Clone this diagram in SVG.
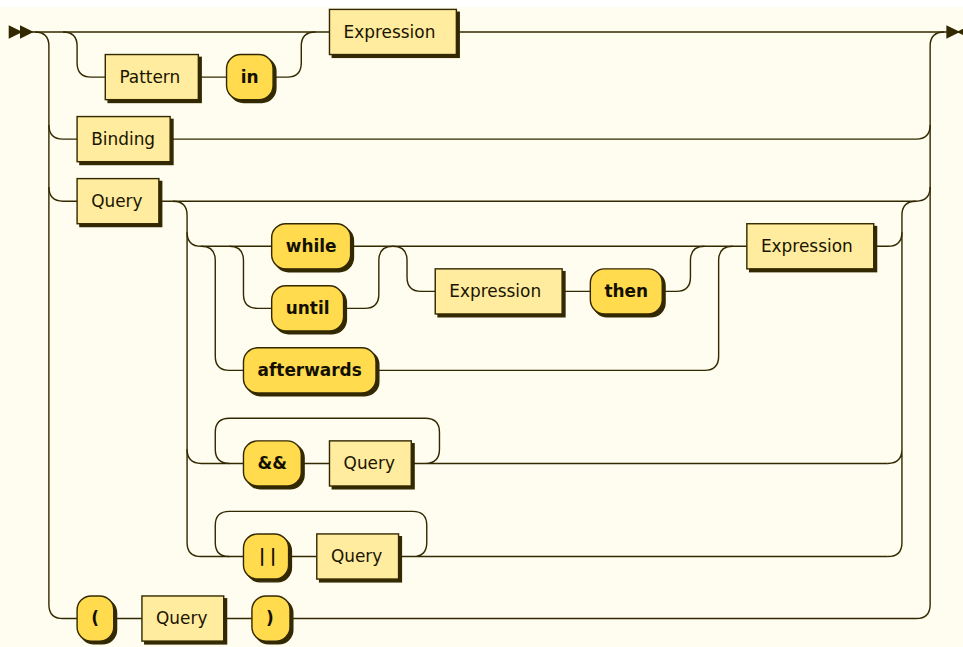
<svg xmlns="http://www.w3.org/2000/svg" width="963" height="647" viewBox="0 0 963 647">
<style>
.line{fill:none;stroke:#332900;stroke-width:1}
.arrow{fill:#332900;stroke:#332900;stroke-width:1}
.shadow{fill:#332900;stroke:#332900;stroke-width:1}
rect.terminal{fill:#FFDB4D;stroke:#332900;stroke-width:1}
rect.nonterminal{fill:#FFEC9E;stroke:#332900;stroke-width:1}
text.terminal{font-family:"DejaVu Sans",Verdana,sans-serif;font-size:12px;fill:#141000;font-weight:bold}
text.nonterminal{font-family:"DejaVu Sans",Verdana,sans-serif;font-size:12px;fill:#1A1400;font-weight:normal}
</style>
<rect x="0" y="0" width="963" height="647" fill="#FFFFFF"/>
<rect x="0" y="7" width="963" height="640" fill="#FFFCF0"/>
<g transform="translate(8 8) scale(1.41)">
<g id="connectors">
<polygon class="arrow" points="9 17 1 13 1 21"/>
<polygon class="arrow" points="17 17 9 13 9 21"/>
<polygon class="arrow" points="674 17 682 13 682 21"/>
<polygon class="arrow" points="674 17 666 13 666 21"/>
<path class="line" d="M17 17 H228 M318 17 H666"/>
<path class="line" d="M19 17 q10 0 10 10 V423 q0 10 10 10 H49"/>
<path class="line" d="M29 83 q0 10 10 10 H49 M29 127 q0 10 10 10 H49"/>
<path class="line" d="M39 17 q10 0 10 10 V39 q0 10 10 10 H69 M135 49 H155 M188 49 H198 q10 0 10 -10 V27 q0 -10 10 -10"/>
<path class="line" d="M115 93 H644 q10 0 10 -10"/>
<path class="line" d="M107 137 H644 q10 0 10 -10"/>
<path class="line" d="M644 433 q10 0 10 -10 V27 q0 -10 10 -10"/>
<path class="line" d="M75 433 H95 M153 433 H173 M200 433 H644"/>
<path class="line" d="M117 137 q10 0 10 10 V379 q0 10 10 10 H167"/>
<path class="line" d="M127 159 q0 10 10 10 H187 M127 313 q0 10 10 10 H167"/>
<path class="line" d="M157 169 q10 0 10 10 V203 q0 10 10 10 H187 M238 213 H253 q10 0 10 -10 V179 q0 -10 10 -10"/>
<path class="line" d="M243 169 H524"/>
<path class="line" d="M137 169 q10 0 10 10 V247 q0 10 10 10 H167 M261 257 H494 q10 0 10 -10 V179 q0 -10 10 -10"/>
<path class="line" d="M273 169 q10 0 10 10 V191 q0 10 10 10 H303 M393 201 H413 M464 201 H474 q10 0 10 -10 V179 q0 -10 10 -10"/>
<path class="line" d="M614 169 H624 q10 0 10 -10"/>
<path class="line" d="M624 389 q10 0 10 -10 V147 q0 -10 10 -10 M624 323 q10 0 10 -10"/>
<path class="line" d="M208 323 H228 M286 323 H624 M157 323 q-10 0 -10 -10 V301 q0 -10 10 -10 H296 q10 0 10 10 V313 q0 10 -10 10"/>
<path class="line" d="M199 389 H219 M277 389 H624 M157 389 q-10 0 -10 -10 V367 q0 -10 10 -10 H287 q10 0 10 10 V379 q0 10 -10 10"/>
</g>
<g id="expression-top"><rect class="shadow" x="230" y="3" width="90" height="32"/><rect class="nonterminal" x="228" y="1" width="90" height="32"/><text class="nonterminal" x="238" y="21">Expression</text></g>
<g id="pattern"><rect class="shadow" x="71" y="35" width="66" height="32"/><rect class="nonterminal" x="69" y="33" width="66" height="32"/><text class="nonterminal" x="79" y="53">Pattern</text></g>
<g id="in"><rect class="shadow" x="157" y="35" width="33" height="32" rx="10"/><rect class="terminal" x="155" y="33" width="33" height="32" rx="10"/><text class="terminal" x="165" y="53">in</text></g>
<g id="binding"><rect class="shadow" x="51" y="79" width="66" height="32"/><rect class="nonterminal" x="49" y="77" width="66" height="32"/><text class="nonterminal" x="59" y="97">Binding</text></g>
<g id="query-main"><rect class="shadow" x="51" y="123" width="58" height="32"/><rect class="nonterminal" x="49" y="121" width="58" height="32"/><text class="nonterminal" x="59" y="141">Query</text></g>
<g id="while"><rect class="shadow" x="189" y="155" width="56" height="32" rx="10"/><rect class="terminal" x="187" y="153" width="56" height="32" rx="10"/><text class="terminal" x="197" y="173">while</text></g>
<g id="until"><rect class="shadow" x="189" y="199" width="51" height="32" rx="10"/><rect class="terminal" x="187" y="197" width="51" height="32" rx="10"/><text class="terminal" x="197" y="217">until</text></g>
<g id="expression-then"><rect class="shadow" x="305" y="187" width="90" height="32"/><rect class="nonterminal" x="303" y="185" width="90" height="32"/><text class="nonterminal" x="313" y="205">Expression</text></g>
<g id="then"><rect class="shadow" x="415" y="187" width="51" height="32" rx="10"/><rect class="terminal" x="413" y="185" width="51" height="32" rx="10"/><text class="terminal" x="423" y="205">then</text></g>
<g id="afterwards"><rect class="shadow" x="169" y="243" width="94" height="32" rx="10"/><rect class="terminal" x="167" y="241" width="94" height="32" rx="10"/><text class="terminal" x="177" y="261">afterwards</text></g>
<g id="expression-body"><rect class="shadow" x="526" y="155" width="90" height="32"/><rect class="nonterminal" x="524" y="153" width="90" height="32"/><text class="nonterminal" x="534" y="173">Expression</text></g>
<g id="and"><rect class="shadow" x="169" y="309" width="41" height="32" rx="10"/><rect class="terminal" x="167" y="307" width="41" height="32" rx="10"/><text class="terminal" x="177" y="327">&amp;&amp;</text></g>
<g id="query-and"><rect class="shadow" x="230" y="309" width="58" height="32"/><rect class="nonterminal" x="228" y="307" width="58" height="32"/><text class="nonterminal" x="238" y="327">Query</text></g>
<g id="or"><rect class="shadow" x="169" y="375" width="32" height="32" rx="10"/><rect class="terminal" x="167" y="373" width="32" height="32" rx="10"/><text class="terminal" x="178" y="393" letter-spacing="3.5">||</text></g>
<g id="query-or"><rect class="shadow" x="221" y="375" width="58" height="32"/><rect class="nonterminal" x="219" y="373" width="58" height="32"/><text class="nonterminal" x="229" y="393">Query</text></g>
<g id="lparen"><rect class="shadow" x="51" y="419" width="26" height="32" rx="10"/><rect class="terminal" x="49" y="417" width="26" height="32" rx="10"/><text class="terminal" x="59" y="437">(</text></g>
<g id="query-paren"><rect class="shadow" x="97" y="419" width="58" height="32"/><rect class="nonterminal" x="95" y="417" width="58" height="32"/><text class="nonterminal" x="105" y="437">Query</text></g>
<g id="rparen"><rect class="shadow" x="175" y="419" width="27" height="32" rx="10"/><rect class="terminal" x="173" y="417" width="27" height="32" rx="10"/><text class="terminal" x="183" y="437">)</text></g>
</g>
</svg>
